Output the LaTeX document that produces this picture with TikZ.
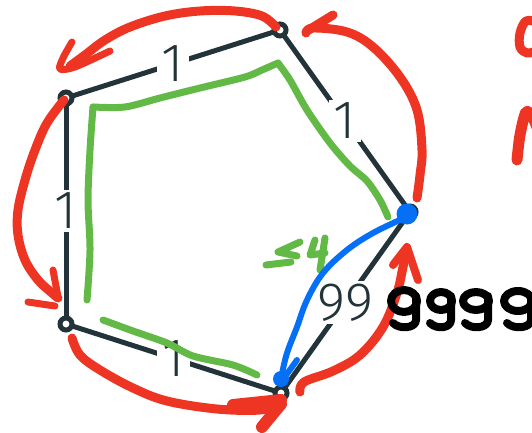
\documentclass[tikz,border=0pt]{standalone}
\usepackage{fontspec}
\setmainfont{Open Sans}
\newfontfamily\labfont{Fira Sans Light}
\definecolor{edgecol}{HTML}{223339}
\definecolor{redc}{HTML}{EE3524}
\definecolor{greenc}{HTML}{62B946}
\definecolor{bluec}{HTML}{0570F5}
\begin{document}
\begin{tikzpicture}[x=1pt,y=-1pt,
  vert/.style={circle,draw=edgecol,line width=5pt,fill=white,inner sep=0pt,minimum size=12pt},
  edge/.style={draw=edgecol,line width=5pt},
  wlabel/.style={fill=white,text=edgecol,inner xsep=5pt,inner ysep=3pt,font=\labfont\fontsize{54}{54}\selectfont},
  redpen/.style={draw=redc,line width=9pt,line cap=round,line join=round},
  greenpen/.style={draw=greenc,line width=7pt,line cap=round,line join=round},
  bluepen/.style={draw=bluec,line width=6pt,line cap=round,line join=round},
  blackpen/.style={draw=black,line width=8pt,line cap=round,line join=round}
]
\useasboundingbox (0,0) rectangle (532,433);
\clip (0,0) rectangle (532,433);

% vertices (coordinates first)
\coordinate (pA) at (280,30);
\coordinate (pB) at (66,98);
\coordinate (pC) at (66,324);
\coordinate (pD) at (281,393);
\coordinate (pE) at (410,212);

% edges with labels
\draw[edge] (pA) -- node[wlabel] (lab1) {1} (pB);
\draw[edge] (pA) -- node[wlabel] (lab2) {1} (pE);
\draw[edge] (pB) -- node[wlabel] (lab3) {1} (pC);
\draw[edge] (pC) -- node[wlabel] (lab4) {1} (pD);
\draw[edge] (pD) -- node[wlabel] (lab5) {99} (pE);

% green path
\draw[greenpen] plot[smooth,tension=0.5] coordinates {(388,217) (380,200) (367,181) (350,166) (330,143) (307,110) (290,80) (278,63)};
\draw[greenpen] plot[smooth,tension=0.5] coordinates {(278,63) (262,70) (245,77) (200,88) (160,98) (125,107) (93,107)};
\draw[greenpen] plot[smooth,tension=0.5] coordinates {(93,107) (90,150) (88,200) (90,250) (87,300)};
\draw[greenpen] plot[smooth,tension=0.5] coordinates {(103,320) (133,331) (167,343) (193,356) (233,365) (257,375)};
% green <= 4
\draw[greenpen] (300,242) -- (278,252) -- (297,256);
\draw[greenpen] (266,265) -- (291,262);
\draw[greenpen] (315,240) -- (310,255) -- (325,253);
\draw[greenpen] (325,238) -- (320,270);

% vertex nodes
\node[vert] (A) at (pA) {};
\node[vert] (B) at (pB) {};
\node[vert] (C) at (pC) {};
\node[vert] (D) at (pD) {};
\node[vert] (E) at (pE) {};

% red arrows
\draw[redpen] plot[smooth,tension=0.6] coordinates {(276,27) (262,16) (235,11) (200,11) (165,16) (130,27) (105,40) (85,55) (70,66)};
\draw[redpen,line width=7pt] plot[smooth,tension=0.5] coordinates {(72,42) (63,58) (60,69) (75,67) (110,51)};

\draw[redpen] plot[smooth,tension=0.6] coordinates {(64,100) (47,123) (35,150) (25,180) (18,210) (18,235) (25,260) (38,280) (52,293) (58,298)};
\draw[redpen,line width=7pt] (53,270) -- (58,297);
\draw[redpen,line width=7pt] (28,302) -- (55,306);

\draw[redpen] plot[smooth,tension=0.6] coordinates {(72,338) (80,355) (100,370) (133,388) (167,401) (217,409) (260,410) (278,404)};
\draw[redpen,line width=12pt] (233,405) -- (281,400);
\draw[redpen,line width=12pt] (262,427) -- (281,404);

\draw[redpen] plot[smooth,tension=0.6] coordinates {(300,392) (304,382) (333,371) (360,355) (383,327) (397,293) (403,267) (407,250)};
\draw[redpen,line width=8pt] (393,265) -- (407,247) -- (418,280);

\draw[redpen] plot[smooth,tension=0.6] coordinates {(417,198) (420,175) (422,150) (417,110) (400,77) (373,47) (347,32) (313,28) (306,33)};
\draw[redpen] (333,15) -- (307,31);

% red partial letters at right edge
\draw[redpen] plot[smooth,tension=0.6] coordinates {(536,22) (526,21) (520,33) (520,47) (527,53) (536,51)};
\draw[redpen,line width=11pt] plot[smooth,tension=0.5] coordinates {(517,160) (520,135) (526,112) (533,118) (540,135)};

% blue
\draw[bluepen] plot[smooth,tension=0.6] coordinates {(402,219) (373,233) (347,250) (323,273) (307,300) (297,327) (287,353) (282,374)};
\draw[bluepen] (297,360) -- (284,378);
\fill[bluec] (407,214) circle (10.5);
\fill[bluec] (281,379) circle (8);

% black handwritten 9999
\foreach \cx/\rx/\ry in {404/13/11, 441/11/9, 476/13/9, 518/14/10} {
  \draw[blackpen] (\cx,301) ellipse ({\rx} and {\ry});
  \draw[blackpen] (\cx+\rx-1,296) -- (\cx+\rx-1,320) .. controls (\cx+\rx-1,328) and (\cx-4,330) .. (\cx-11,323);
}
\end{tikzpicture}
\end{document}
